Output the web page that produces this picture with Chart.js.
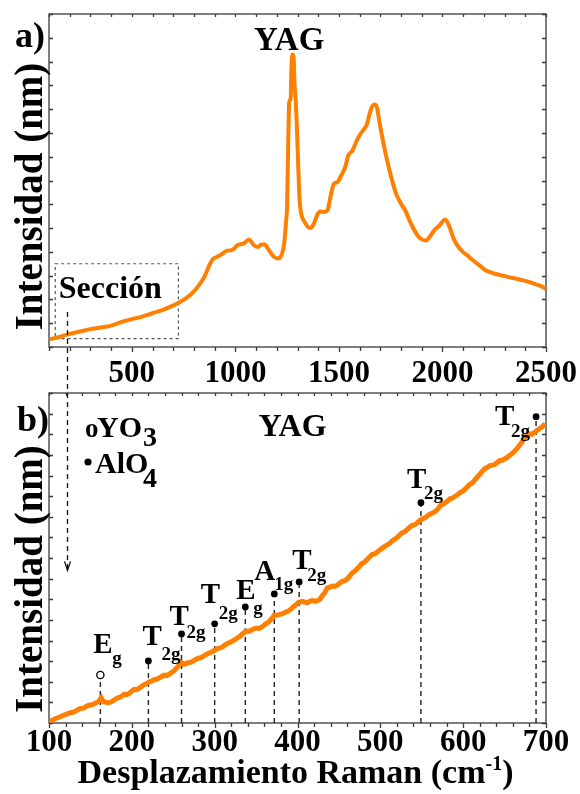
<!DOCTYPE html>
<html>
<head>
<meta charset="utf-8">
<title>YAG Raman</title>
<script src="https://cdn.jsdelivr.net/npm/chart.js@4.4.1/dist/chart.umd.min.js"></script>
<style>
  html, body { margin: 0; padding: 0; background: #fff; }
  .wrap { position: relative; width: 580px; height: 794px; }
  .wrap canvas { position: absolute; left: 0; top: 0; }
</style>
</head>
<body>
<div class="wrap">
  <canvas id="fullChart" width="580" height="794"></canvas>
  <canvas id="zoomChart" width="580" height="794"></canvas>
</div>
<script>
// Full spectrum (panel a)
const fullShift = [100, 150, 200, 250, 300, 350, 400, 450, 500, 550, 600, 650, 700, 750, 790, 820, 850, 870, 890, 910,
  930, 960, 985, 1010, 1040, 1066, 1085, 1106, 1125, 1140, 1160, 1185, 1205, 1222, 1235, 1245, 1250, 1256, 1260, 1267,
  1271, 1276, 1281, 1286, 1292, 1298, 1304, 1310, 1318, 1335, 1350, 1363, 1380, 1395, 1410, 1430, 1445, 1460, 1475, 1495,
  1510, 1530, 1545, 1565, 1585, 1600, 1620, 1635, 1648, 1660, 1672, 1683, 1695, 1712, 1730, 1745, 1760, 1776, 1792, 1808,
  1820, 1832, 1850, 1873, 1895, 1921, 1940, 1961, 1985, 2005, 2015, 2034, 2050, 2066, 2085, 2098, 2120, 2146, 2180, 2210,
  2240, 2280, 2340, 2390, 2437, 2470, 2500];
const fullIntensity = [0.32, 0.42, 0.55, 0.65, 0.75, 0.82, 0.9, 1.05, 1.17, 1.28, 1.42, 1.56, 1.75, 1.98, 2.25, 2.55, 2.95, 3.35, 3.68, 3.78,
  3.88, 4.05, 4.08, 4.28, 4.35, 4.52, 4.32, 4.2, 4.3, 4.32, 4.1, 3.8, 3.72, 3.85, 4.3, 5.3, 6.0, 9.0, 10.3, 10.45,
  11.8, 12.3, 12.2, 11.0, 10.3, 9.0, 7.5, 6.2, 5.6, 5.25, 5.05, 5.0, 5.2, 5.55, 5.7, 5.68, 5.75, 6.35, 6.85, 6.95,
  7.2, 7.55, 8.05, 8.25, 8.65, 8.9, 9.15, 9.35, 9.8, 10.1, 10.2, 10.1, 9.5, 8.7, 7.95, 7.4, 6.9, 6.45, 6.15, 5.9,
  5.75, 5.5, 5.15, 4.78, 4.55, 4.48, 4.65, 4.92, 5.1, 5.32, 5.35, 5.05, 4.65, 4.35, 4.12, 4.0, 3.85, 3.66, 3.42, 3.22,
  3.12, 3.02, 2.9, 2.8, 2.68, 2.58, 2.45];

// Low-frequency section (panel b)
const zoomShift = [100, 104, 108, 112, 115, 119, 122, 126, 130, 134, 137, 142, 145, 148, 152, 155, 160, 163, 166, 169,
  172, 176, 179, 182, 185, 188, 191, 194, 197, 200, 203, 206, 209, 212, 215, 218, 221, 224, 227, 230,
  233, 236, 239, 242, 245, 248, 251, 255, 259, 263, 268, 271, 274, 277, 280, 283, 286, 289, 292, 295,
  298, 301, 304, 307, 310, 313, 316, 319, 322, 325, 328, 331, 334, 338, 341, 344, 347, 350, 353, 356,
  359, 362, 365, 367, 370, 372, 375, 377, 380, 383, 386, 389, 392, 395, 398, 401, 406, 409, 412, 415,
  418, 421, 424, 427, 430, 433, 436, 439, 442, 445, 448, 451, 454, 457, 460, 463, 466, 469, 472, 475,
  478, 481, 484, 487, 490, 493, 496, 499, 502, 505, 508, 511, 514, 517, 520, 523, 526, 529, 532, 535,
  538, 541, 544, 547, 549, 552, 555, 558, 561, 564, 567, 570, 573, 576, 578, 581, 584, 587, 590, 593,
  596, 599, 602, 605, 608, 611, 614, 617, 620, 623, 626, 629, 632, 635, 638, 641, 644, 647, 650, 653,
  656, 659, 662, 665, 668, 671, 674, 677, 680, 683, 686, 689, 692, 695, 699];
const zoomIntensity = [0.05, 0.14, 0.22, 0.28, 0.33, 0.4, 0.44, 0.5, 0.53, 0.62, 0.7, 0.72, 0.8, 0.86, 0.88, 0.94, 1.05, 1.22, 1.02, 1.0,
  0.98, 1.04, 1.12, 1.2, 1.24, 1.3, 1.4, 1.38, 1.44, 1.55, 1.63, 1.62, 1.69, 1.78, 1.86, 1.92, 1.99, 2.04, 2.1, 2.12,
  2.18, 2.26, 2.32, 2.3, 2.36, 2.45, 2.53, 2.7, 2.95, 2.84, 2.92, 2.94, 3.0, 3.08, 3.14, 3.16, 3.23, 3.3, 3.37, 3.42,
  3.48, 3.55, 3.62, 3.64, 3.7, 3.8, 3.87, 3.92, 3.98, 4.05, 4.14, 4.22, 4.33, 4.46, 4.44, 4.49, 4.56, 4.6, 4.58, 4.63,
  4.72, 4.82, 4.88, 4.98, 5.1, 5.23, 5.22, 5.24, 5.28, 5.32, 5.38, 5.43, 5.52, 5.64, 5.72, 5.84, 5.9, 5.86, 5.83, 5.9,
  5.94, 5.9, 5.93, 6.0, 6.17, 6.32, 6.55, 6.58, 6.64, 6.62, 6.68, 6.78, 6.87, 6.9, 6.98, 7.12, 7.27, 7.36, 7.48, 7.6,
  7.74, 7.8, 7.93, 8.05, 8.17, 8.2, 8.28, 8.38, 8.47, 8.55, 8.63, 8.7, 8.82, 8.9, 8.98, 9.1, 9.22, 9.26, 9.36, 9.48,
  9.57, 9.6, 9.68, 9.8, 9.86, 9.92, 9.98, 10.08, 10.14, 10.2, 10.28, 10.4, 10.57, 10.62, 10.68, 10.75, 10.87, 10.9, 10.98, 11.06,
  11.17, 11.22, 11.33, 11.45, 11.57, 11.64, 11.78, 11.92, 12.06, 12.2, 12.33, 12.38, 12.47, 12.5, 12.53, 12.62, 12.72, 12.74, 12.8, 12.88,
  12.97, 13.06, 13.18, 13.3, 13.47, 13.62, 13.85, 13.92, 14.02, 14.0, 14.08, 14.18, 14.27, 14.35, 14.5];

// Assigned vibrational modes
const modeShift = [162, 220, 260, 300, 337, 372, 402, 549, 688];
const modeMark = [2.33, 3.01, 4.32, 4.81, 5.63, 6.26, 6.84, 10.68, 14.85];
const modeSymbol = ['E', 'T', 'T', 'T', 'E', 'A', 'T', 'T', 'T'];
const modeIndex = ['g', '2g', '2g', '2g', 'g', '1g', '2g', '2g', '2g'];
const modeGroup = ['YO3', 'AlO4', 'AlO4', 'AlO4', 'AlO4', 'AlO4', 'AlO4', 'AlO4', 'AlO4'];

// label placement around each marker: [symbol dx, dy, index dx, dy]
const modeLabelOffset = [
  [-7, -22, 12, -11], [-6, -16, 13, -1], [-12, -9, 5, 4], [-14, -21, 4, -5], [-9, -8, 8, 7],
  [-20, -14, 0, -4], [-7, -13, 8, -1], [-14, -15, 3, -4], [-41, 8, -25, 20]
];

// section box (panel a units) and the arrow that points into panel b
const sectionBox = { x0: 130, x1: 725, y0: 0.35, y1: 3.5 };
const sectionArrow = { shift: 185, from: 1.47, to: 7.4 };

const ORANGE = '#ff7f00';
const FRAME = '#3a3a3a';
const SERIF = '"Liberation Serif", "Times New Roman", serif';

function setFont(ctx, size, weight) {
  ctx.font = `${weight || 'bold'} ${size}px ${SERIF}`;
}

function drawText(ctx, str, x, y, size, align) {
  setFont(ctx, size);
  ctx.fillStyle = '#000';
  ctx.textAlign = align || 'left';
  ctx.textBaseline = 'alphabetic';
  ctx.fillText(str, x, y);
}

function drawYTitle(ctx, cy) {
  ctx.save();
  ctx.translate(42, cy);
  ctx.rotate(-Math.PI / 2);
  drawText(ctx, 'Intensidad (nm)', 0, 0, 39, 'center');
  ctx.restore();
}

// box + tick marks: bottom ticks outward, the rest inward
function drawFrame(chart, major) {
  const { ctx, chartArea: a, scales: { x, y } } = chart;
  ctx.save();
  ctx.strokeStyle = FRAME;
  ctx.lineWidth = 1.3;
  ctx.strokeRect(a.left, a.top, a.right - a.left, a.bottom - a.top);
  ctx.beginPath();
  x.ticks.forEach(t => {
    const px = Math.round(x.getPixelForValue(t.value)) + 0.5;
    const len = t.value % major === 0 ? 5 : 4;
    ctx.moveTo(px, a.bottom);
    ctx.lineTo(px, a.bottom + len);
    ctx.moveTo(px, a.top);
    ctx.lineTo(px, a.top + 3);
  });
  y.ticks.forEach(t => {
    const py = Math.round(y.getPixelForValue(t.value)) + 0.5;
    ctx.moveTo(a.left, py);
    ctx.lineTo(a.left + 4, py);
    ctx.moveTo(a.right, py);
    ctx.lineTo(a.right - 4, py);
  });
  ctx.stroke();
  ctx.restore();
}

const fullDecor = {
  id: 'fullDecor',
  beforeDatasetsDraw(chart) {
    const { ctx, chartArea: a, scales: { x, y } } = chart;
    drawFrame(chart, 500);

    // dotted section box
    ctx.save();
    ctx.strokeStyle = '#555';
    ctx.lineWidth = 1.2;
    ctx.setLineDash([3, 3]);
    const bx0 = x.getPixelForValue(sectionBox.x0), bx1 = x.getPixelForValue(sectionBox.x1);
    const by0 = y.getPixelForValue(sectionBox.y0), by1 = y.getPixelForValue(sectionBox.y1);
    ctx.strokeRect(bx0, by1, bx1 - bx0, by0 - by1);
    ctx.restore();

    drawText(ctx, 'a)', a.left - 34, a.top + 33, 36);
    drawText(ctx, 'YAG', x.getPixelForValue(1260), y.getPixelForValue(12.48), 33, 'center');
    drawText(ctx, 'Sección', x.getPixelForValue(147), y.getPixelForValue(2.06), 32);
    drawYTitle(ctx, (a.top + a.bottom) / 2 + 16);
  }
};

const zoomDecor = {
  id: 'zoomDecor',
  beforeDatasetsDraw(chart) {
    const { ctx, chartArea: a, scales: { x, y } } = chart;
    drawFrame(chart, 100);

    // dashed arrow running down from the section in panel a
    const fx = fullChart.scales.x, fy = fullChart.scales.y;
    const ax = Math.round(fx.getPixelForValue(sectionArrow.shift)) + 0.5;
    const ay0 = fy.getPixelForValue(sectionArrow.from);
    const ay1 = y.getPixelForValue(sectionArrow.to);
    ctx.save();
    ctx.strokeStyle = '#111';
    ctx.lineWidth = 1.3;
    ctx.setLineDash([5, 4]);
    ctx.beginPath();
    ctx.moveTo(ax, ay0);
    ctx.lineTo(ax, ay1);
    ctx.stroke();
    ctx.setLineDash([]);
    ctx.beginPath();
    ctx.moveTo(ax - 3, ay1 - 9);
    ctx.lineTo(ax, ay1);
    ctx.lineTo(ax + 3, ay1 - 9);
    ctx.stroke();
    ctx.restore();

    drawText(ctx, 'b)', a.left - 32, a.top + 38, 36);
    drawText(ctx, 'YAG', x.getPixelForValue(394), y.getPixelForValue(13.9), 32, 'center');

    // site legend
    drawText(ctx, 'o', a.left + 36, a.top + 44, 27);
    drawText(ctx, 'YO', a.left + 48, a.top + 44, 30);
    drawText(ctx, '3', a.left + 94, a.top + 53, 28);
    ctx.save();
    ctx.fillStyle = '#000';
    ctx.beginPath();
    ctx.arc(a.left + 39, a.top + 69, 3.6, 0, Math.PI * 2);
    ctx.fill();
    ctx.restore();
    drawText(ctx, 'AlO', a.left + 46, a.top + 80, 30);
    drawText(ctx, '4', a.left + 94, a.top + 94, 28);

    drawYTitle(ctx, (a.top + a.bottom) / 2 + 21);

    // x title with superscript
    const main = 'Desplazamiento Raman (cm', sup = '-1', tail = ')';
    setFont(ctx, 34);
    const wMain = ctx.measureText(main).width, wTail = ctx.measureText(tail).width;
    setFont(ctx, 20);
    const wSup = ctx.measureText(sup).width;
    const cx = (a.left + a.right) / 2 - 2;
    let tx = cx - (wMain + wSup + wTail) / 2;
    const base = a.bottom + 60;
    drawText(ctx, main, tx, base, 34);
    tx += wMain;
    drawText(ctx, sup, tx, base - 13, 20);
    tx += wSup;
    drawText(ctx, tail, tx, base, 34);
  },
  afterDatasetsDraw(chart) {
    const { ctx, scales: { x, y } } = chart;
    modeShift.forEach((s, i) => {
      const px = x.getPixelForValue(s), py = y.getPixelForValue(modeMark[i]);
      const off = modeLabelOffset[i];
      drawText(ctx, modeSymbol[i], px + off[0], py + off[1], 29);
      drawText(ctx, modeIndex[i], px + off[2], py + off[3], 19);
    });
  }
};

function axisFont(size) {
  return { family: SERIF, size: size, weight: 'bold', lineHeight: 1.2 };
}

// keep the plot box fixed; edge tick labels may hang into the margins
function fixHorizontal(height) {
  return s => {
    s.height = height;
    s.paddingLeft = 0;
    s.paddingRight = 0;
  };
}

const fullChart = new Chart(document.getElementById('fullChart'), {
  type: 'line',
  data: {
    datasets: [{
      data: fullShift.map((s, i) => ({ x: s, y: fullIntensity[i] })),
      borderColor: ORANGE,
      borderWidth: 4,
      pointRadius: 0,
      cubicInterpolationMode: 'monotone'
    }]
  },
  options: {
    responsive: false,
    animation: false,
    devicePixelRatio: 1,
    layout: { padding: { top: 14, right: 34, bottom: 402, left: 0 } },
    plugins: { legend: { display: false }, tooltip: { enabled: false } },
    scales: {
      x: {
        type: 'linear', min: 100, max: 2500,
        grid: { display: false, drawTicks: false },
        border: { display: false },
        ticks: {
          stepSize: 100, autoSkip: false, maxRotation: 0, padding: 8, color: '#000',
          font: axisFont(31),
          callback: v => (v % 500 === 0 ? String(v) : '')
        },
        afterFit: fixHorizontal(45)
      },
      y: {
        min: 0, max: 14,
        grid: { display: false, drawTicks: false },
        border: { display: false },
        ticks: { stepSize: 1, display: false },
        afterFit: s => { s.width = 49; }
      }
    }
  },
  plugins: [fullDecor]
});

const zoomChart = new Chart(document.getElementById('zoomChart'), {
  type: 'line',
  data: {
    datasets: [
      {
        data: zoomShift.map((s, i) => ({ x: s, y: zoomIntensity[i] })),
        borderColor: ORANGE,
        borderWidth: 5,
        pointRadius: 0,
        tension: 0,
        order: 0
      },
      {
        type: 'scatter',
        data: modeShift.map((s, i) => ({ x: s, y: modeMark[i] })),
        pointRadius: modeGroup.map(g => (g === 'YO3' ? 3.6 : 3.4)),
        pointBackgroundColor: modeGroup.map(g => (g === 'YO3' ? '#fff' : '#000')),
        pointBorderColor: '#000',
        pointBorderWidth: modeGroup.map(g => (g === 'YO3' ? 1.3 : 0)),
        order: 1
      },
      ...modeShift.map((s, i) => ({
        data: [{ x: s, y: 0 }, { x: s, y: modeMark[i] }],
        borderColor: '#222',
        borderWidth: 1.4,
        borderDash: [5, 4],
        pointRadius: 0,
        order: 2
      }))
    ]
  },
  options: {
    responsive: false,
    animation: false,
    devicePixelRatio: 1,
    layout: { padding: { top: 393, right: 34, bottom: 0, left: 0 } },
    plugins: { legend: { display: false }, tooltip: { enabled: false } },
    scales: {
      x: {
        type: 'linear', min: 100, max: 700,
        grid: { display: false, drawTicks: false },
        border: { display: false },
        ticks: {
          stepSize: 20, autoSkip: false, maxRotation: 0, padding: 1, color: '#000',
          font: axisFont(31),
          callback: v => (v % 100 === 0 ? String(v) : '')
        },
        afterFit: fixHorizontal(71)
      },
      y: {
        min: 0, max: 16,
        grid: { display: false, drawTicks: false },
        border: { display: false },
        ticks: { stepSize: 1, display: false },
        afterFit: s => { s.width = 49; }
      }
    }
  },
  plugins: [zoomDecor]
});
</script>
</body>
</html>
